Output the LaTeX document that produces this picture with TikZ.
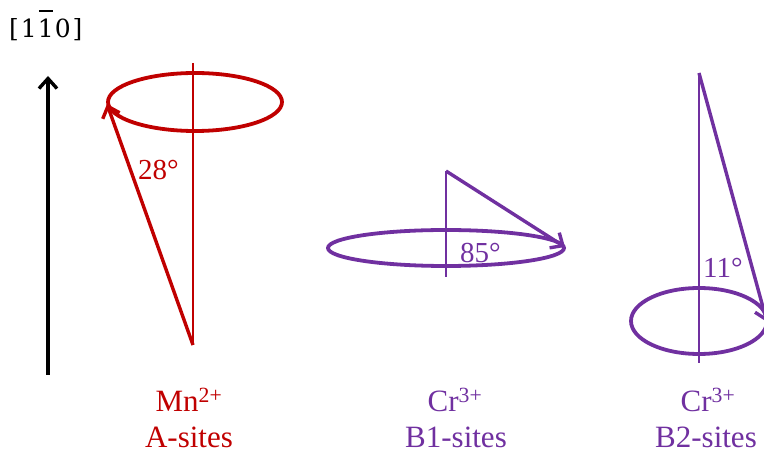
\documentclass[tikz,border=0pt]{standalone}
\usepackage{fontspec}
\setmainfont{Liberation Serif}
\newfontfamily\dirfont{DejaVu Serif}
\usetikzlibrary{arrows.meta}
\definecolor{mnred}{HTML}{C00000}
\definecolor{crpurple}{HTML}{7030A0}
\newcommand{\barone}{\rlap{\kern1pt\raisebox{26pt}{\rule{14pt}{1.8pt}}}1}
\begin{document}
\begin{tikzpicture}[x=1pt,y=-1pt,
  spin/.style={line width=3.4pt,-{Straight Barb[length=10pt,width=18pt]}},
  axis/.style={line width=2.4pt},
  orbit/.style={line width=3.8pt},
  lbl/.style={font=\fontsize{31}{36}\selectfont,anchor=base,inner sep=0pt},
  angl/.style={font=\fontsize{29}{34}\selectfont,anchor=base west,inner sep=0pt}]
  \useasboundingbox (0,0) rectangle (764,454);
  \clip (0,0) rectangle (764,454);
  % reference direction
  \coordinate (dir-base) at (48,375);
  \coordinate (dir-tip) at (48,76);
  \draw[spin,black] (dir-base) -- (dir-tip);
  \node[anchor=base west,inner sep=0pt,font=\dirfont\fontsize{25}{30}\selectfont] (dir-lbl) at (9,38)
    {[\kern2pt1\kern1pt\barone\kern1pt0\kern2pt]};
  % A-sites (Mn)
  \coordinate (a-top) at (193,63);
  \coordinate (a-base) at (193,345);
  \coordinate (a-tip) at (107,104);
  \draw[mnred,axis] (a-top) -- (a-base);
  \draw[mnred,orbit] (195,102) ellipse [x radius=87,y radius=29];
  \draw[mnred,spin] (a-base) -- (a-tip);
  \node[angl,text=mnred] (a-ang) at (138,180) {28°};
  \node[lbl,text=mnred] (a-ion) at (189,412) {Mn\textsuperscript{2+}};
  \node[lbl,text=mnred] (a-site) at (189,448) {A-sites};
  % B1-sites (Cr)
  \coordinate (b1-top) at (446,171);
  \coordinate (b1-base) at (446,277);
  \coordinate (b1-tip) at (565,247);
  \draw[crpurple,axis] (b1-top) -- (b1-base);
  \draw[crpurple,orbit] (446,248) ellipse [x radius=118,y radius=18];
  \draw[crpurple,spin] (b1-top) -- (b1-tip);
  \node[angl,text=crpurple] (b1-ang) at (460,263) {85°};
  \node[lbl,text=crpurple] (b1-ion) at (455,412) {Cr\textsuperscript{3+}};
  \node[lbl,text=crpurple] (b1-site) at (456,448) {B1-sites};
  % B2-sites (Cr)
  \coordinate (b2-top) at (699,73);
  \coordinate (b2-base) at (699,363);
  \coordinate (b2-tip) at (767,322);
  \draw[crpurple,axis] (b2-top) -- (b2-base);
  \draw[crpurple,orbit] (699,321) ellipse [x radius=68,y radius=33];
  \draw[crpurple,spin] (b2-top) -- (b2-tip);
  \node[angl,text=crpurple] (b2-ang) at (703,278) {11°};
  \node[lbl,text=crpurple] (b2-ion) at (708,412) {Cr\textsuperscript{3+}};
  \node[lbl,text=crpurple] (b2-site) at (706,448) {B2-sites};
\end{tikzpicture}
\end{document}
